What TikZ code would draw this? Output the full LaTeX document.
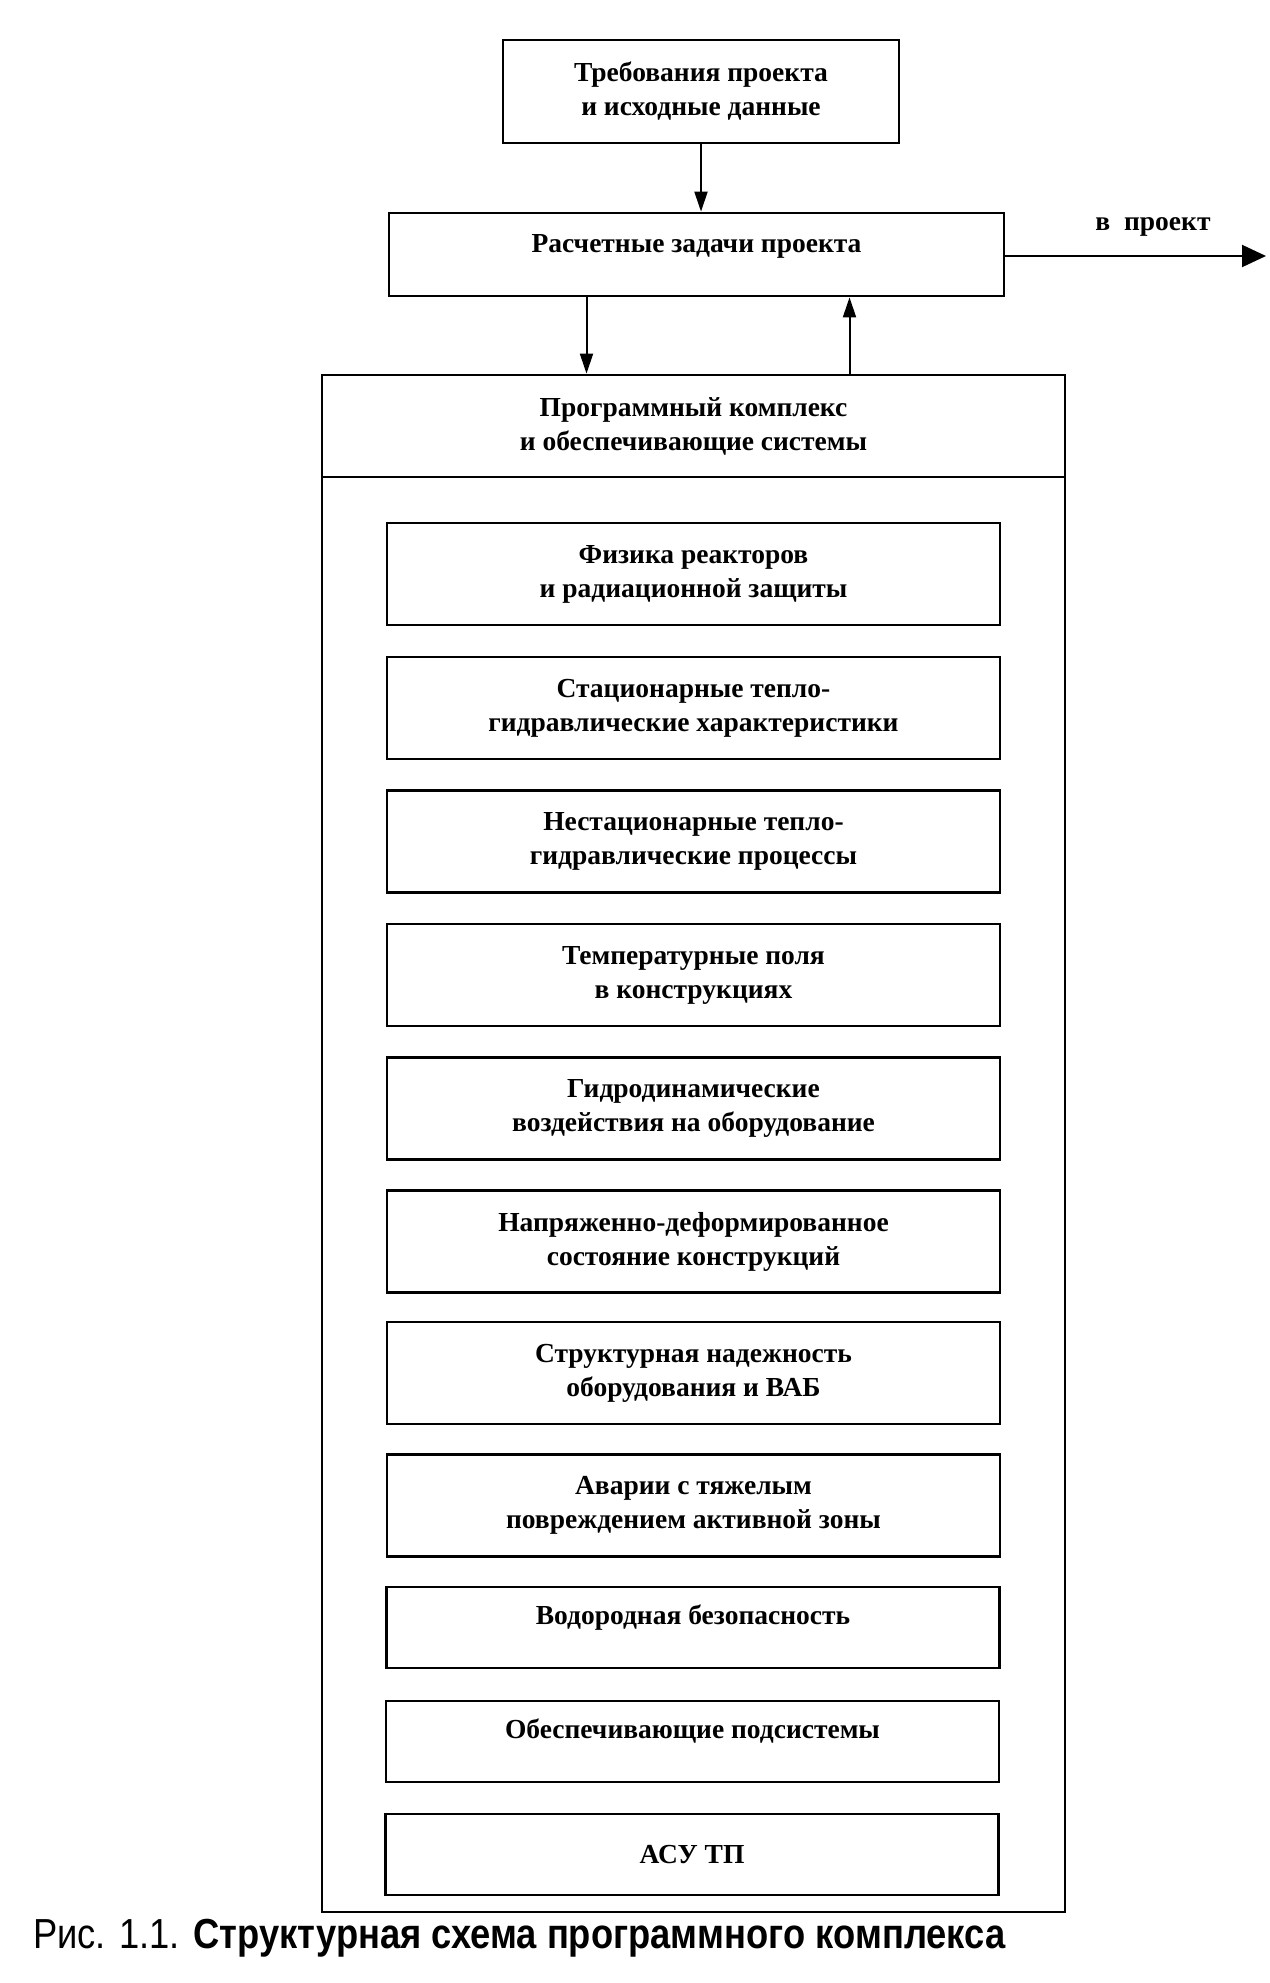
\documentclass[tikz,border=0pt]{standalone}
\usepackage{fontspec}
\setmainfont{Liberation Serif}
\newfontfamily\capfont{Liberation Sans}
\usetikzlibrary{arrows.meta}
\tikzset{
  box/.style={draw, line width=2.8pt, minimum width=613pt, align=center,
    font=\fontsize{27.5pt}{34pt}\selectfont\bfseries, inner sep=0pt},
  tall/.style={box, minimum height=102pt},
  short/.style={box, minimum height=81pt},
  conn/.style={line width=2pt, -{Triangle[length=20pt,width=13pt]}}
}
\begin{document}
\begin{tikzpicture}[x=1pt,y=-1pt]
\useasboundingbox (0,0) rectangle (1269,1983);
\node[box, minimum width=396pt, minimum height=103pt] (req) at (701,91.5)
  {Требования проекта\\и исходные данные};
\node[box, minimum width=615pt, minimum height=83pt] (calc) at (696.5,254.5)
  {Расчетные задачи проекта\\[-12pt]\mbox{}};
\node[draw, line width=2.8pt, minimum width=743pt, minimum height=1537pt, inner sep=0pt] (outer) at (693.5,1143.5) {};
\node[box, minimum width=743pt, minimum height=102pt] (head) at (693.5,426)
  {Программный комплекс\\и обеспечивающие системы};
\node[tall] (b1) at (693.5,574) {Физика реакторов\\и радиационной защиты};
\node[tall] (b2) at (693.5,708) {Стационарные тепло-\\гидравлические характеристики};
\node[tall] (b3) at (693.5,841.5) {Нестационарные тепло-\\гидравлические процессы};
\node[tall] (b4) at (693.5,975) {Температурные поля\\в конструкциях};
\node[tall] (b5) at (693.5,1108.5) {Гидродинамические\\воздействия на оборудование};
\node[tall] (b6) at (693.5,1241.5) {Напряженно-деформированное\\состояние конструкций};
\node[tall] (b7) at (693.5,1373) {Структурная надежность\\оборудования и ВАБ};
\node[tall] (b8) at (693.5,1505.5) {Аварии с тяжелым\\повреждением активной зоны};
\node[short] (b9) at (693,1627.5) {Водородная безопасность\\[-8pt]\mbox{}};
\node[short] (b10) at (692.5,1741.5) {Обеспечивающие подсистемы\\[-8pt]\mbox{}};
\node[short] (b11) at (692,1854.5) {АСУ ТП};
\coordinate (out) at (1266,256);
\draw[line width=2pt, -{Triangle[length=24pt,width=22pt]}] (calc.east |- out) -- (out);
\node[font=\fontsize{27.5pt}{34pt}\selectfont\bfseries, anchor=base] (lbl) at (1153,230) {в\ \ проект};
\draw[conn] (req.south) -- (req.south |- calc.north);
\draw[conn] ([xshift=-110pt]calc.south) -- ([xshift=-110pt]calc.south |- head.north);
\draw[conn] ([xshift=153pt]calc.south |- head.north) -- ([xshift=153pt]calc.south);
\node[anchor=base west, inner sep=0pt, font=\capfont\fontsize{42pt}{50pt}\selectfont, xscale=0.865] (cap) at (33,1948)
  {Рис. 1.1. \textbf{Структурная схема программного комплекса}};
\end{tikzpicture}
\end{document}
